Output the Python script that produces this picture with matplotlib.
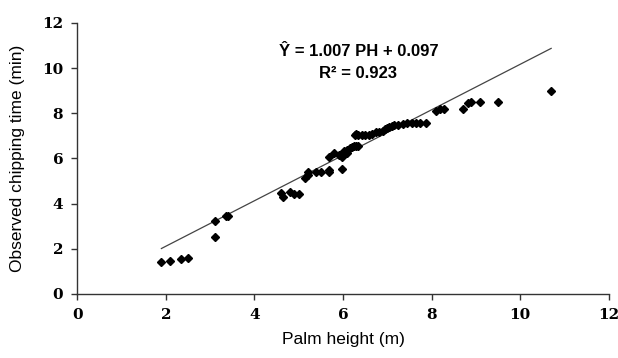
import matplotlib
matplotlib.use("Agg")
import matplotlib.pyplot as plt
import numpy as np

# measured palm height (m) and observed chipping time (min)
palm_height = [1.9, 2.1, 2.35, 2.5, 3.1, 3.1, 3.35, 3.4,
               4.6, 4.65, 4.8, 4.9, 5.0, 5.15, 5.2, 5.22, 5.4, 5.5,
               5.68, 5.68, 5.68, 5.8, 5.98, 5.9, 5.98, 6.0, 6.03, 6.08,
               6.1, 6.16, 6.2, 6.25, 6.3, 6.35, 6.28, 6.3, 6.35, 6.42,
               6.5, 6.58, 6.65, 6.75, 6.82, 6.9, 6.95, 7.0, 7.05, 7.1,
               7.15, 7.25, 7.35, 7.45, 7.55, 7.65, 7.75, 7.88,
               8.1, 8.19, 8.29, 8.7, 8.83, 8.9, 9.1, 9.5, 10.7]
chip_time = [1.42, 1.45, 1.56, 1.59, 3.22, 2.51, 3.44, 3.47,
             4.47, 4.30, 4.52, 4.43, 4.43, 5.12, 5.25, 5.38, 5.40, 5.40,
             5.40, 5.50, 6.08, 6.22, 5.55, 6.15, 6.08, 6.20, 6.32, 6.25,
             6.38, 6.47, 6.52, 6.54, 6.55, 6.55, 7.02, 7.08, 7.02, 7.02,
             7.02, 7.05, 7.08, 7.15, 7.15, 7.22, 7.30, 7.35, 7.40, 7.45,
             7.48, 7.50, 7.52, 7.55, 7.57, 7.57, 7.57, 7.57,
             8.08, 8.18, 8.19, 8.18, 8.44, 8.48, 8.48, 8.48, 9.00]

# regression reported on the chart
slope = 1.007
intercept = 0.097
r2 = 0.923

tick_vals = [0, 2, 4, 6, 8, 10, 12]

fig = plt.figure(figsize=(6.18, 3.58), dpi=100)
ax = fig.add_axes([0.125, 0.179, 0.86, 0.757])

ax.plot(palm_height, chip_time, linestyle="none", marker="D",
        markersize=4, color="black", zorder=3)

xl = np.array([min(palm_height), max(palm_height)])
ax.plot(xl, slope * xl + intercept, color="#444444", linewidth=0.9, zorder=2)

ax.set_xlim(0, 12)
ax.set_ylim(0, 12)
ax.set_xticks(tick_vals)
ax.set_yticks(tick_vals)

serif_bold = dict(family=["DejaVu Serif"], weight="bold", size=11)
ax.set_xticklabels([str(t) for t in tick_vals], fontdict=serif_bold)
ax.set_yticklabels([str(t) for t in tick_vals], fontdict=serif_bold)

for side in ("top", "right"):
    ax.spines[side].set_visible(False)
for side in ("left", "bottom"):
    ax.spines[side].set_color("#333333")
    ax.spines[side].set_linewidth(1.0)
ax.tick_params(direction="out", length=4, width=1, color="#333333", pad=6)

lab_font = dict(family=["Liberation Sans", "DejaVu Sans"], size=12.5)
ax.set_xlabel("Palm height (m)", fontdict=lab_font, labelpad=7)
ax.set_ylabel("Observed chipping time (min)", fontdict=lab_font, labelpad=12)

eq_font = dict(family=["Liberation Sans", "DejaVu Sans"],
               weight="bold", size=12)
ax.text(6.35, 10.73, f"Ŷ = {slope:.3f} PH + {intercept:.3f}", ha="center",
        va="center", fontdict=eq_font)
ax.text(6.35, 9.75, f"R² = {r2:.3f}", ha="center", va="center", fontdict=eq_font)

fig.savefig("out.png", dpi=100)
